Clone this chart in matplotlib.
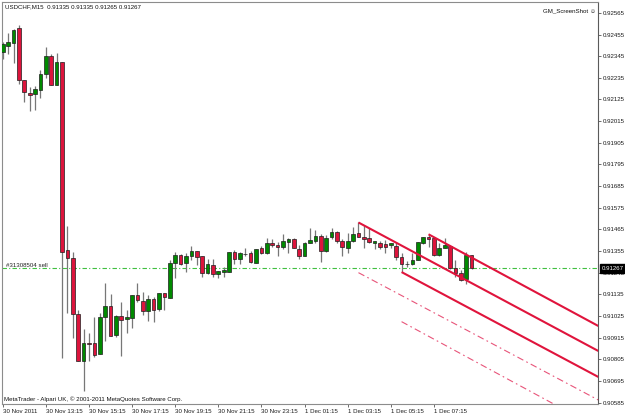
import matplotlib
matplotlib.use("Agg")
import matplotlib.pyplot as plt
import matplotlib.transforms as mtrans
import numpy as np

# ---------------- data ----------------
opens = [0.92368, 0.92399, 0.92414, 0.92487, 0.92224, 0.92157, 0.92152, 0.92172, 0.92253, 0.92346,
         0.92198, 0.92314, 0.91360, 0.91321, 0.91033, 0.90798, 0.90889, 0.90886, 0.90830, 0.91021,
         0.91076, 0.90928, 0.91025, 0.91010, 0.91016, 0.91132, 0.91101, 0.91050, 0.91111, 0.91059,
         0.91140, 0.91118, 0.91293, 0.91335, 0.91293, 0.91330, 0.91355, 0.91331, 0.91242, 0.91284,
         0.91238, 0.91249, 0.91250, 0.91352, 0.91313, 0.91341, 0.91344, 0.91296, 0.91369, 0.91344,
         0.91394, 0.91384, 0.91374, 0.91403, 0.91415, 0.91365, 0.91331, 0.91397, 0.91408, 0.91433,
         0.91357, 0.91425, 0.91453, 0.91406, 0.91369, 0.91408, 0.91445, 0.91428, 0.91420, 0.91397,
         0.91394, 0.91391, 0.91386, 0.91382, 0.91326, 0.91291, 0.91289, 0.91310, 0.91394, 0.91425,
         0.91420, 0.91335, 0.91369, 0.91382, 0.91267, 0.91242, 0.91211, 0.91335]
highs = [0.92419, 0.92462, 0.92482, 0.92504, 0.92224, 0.92190, 0.92195, 0.92275, 0.92392, 0.92355,
         0.92363, 0.92314, 0.91482, 0.91349, 0.91055, 0.90959, 0.90937, 0.91021, 0.91042, 0.91191,
         0.91135, 0.91030, 0.91094, 0.91055, 0.91132, 0.91194, 0.91148, 0.91132, 0.91123, 0.91140,
         0.91140, 0.91310, 0.91352, 0.91338, 0.91344, 0.91381, 0.91355, 0.91331, 0.91313, 0.91313,
         0.91254, 0.91272, 0.91352, 0.91360, 0.91352, 0.91372, 0.91357, 0.91366, 0.91381, 0.91420,
         0.91415, 0.91399, 0.91440, 0.91420, 0.91420, 0.91386, 0.91403, 0.91471, 0.91462, 0.91442,
         0.91436, 0.91474, 0.91458, 0.91416, 0.91445, 0.91479, 0.91501, 0.91487, 0.91471, 0.91406,
         0.91406, 0.91411, 0.91394, 0.91403, 0.91347, 0.91304, 0.91347, 0.91403, 0.91425, 0.91442,
         0.91425, 0.91394, 0.91420, 0.91386, 0.91310, 0.91259, 0.91350, 0.91335]
lows = [0.92330, 0.92355, 0.92309, 0.92203, 0.92114, 0.92067, 0.92072, 0.92131, 0.92233, 0.92198,
        0.92198, 0.90813, 0.91042, 0.90914, 0.90798, 0.90644, 0.90798, 0.90818, 0.90830, 0.90898,
        0.90925, 0.90920, 0.90823, 0.90940, 0.90962, 0.91098, 0.91030, 0.90999, 0.90993, 0.91050,
        0.91055, 0.91115, 0.91216, 0.91284, 0.91250, 0.91310, 0.91284, 0.91225, 0.91238, 0.91225,
        0.91216, 0.91225, 0.91247, 0.91289, 0.91289, 0.91330, 0.91296, 0.91293, 0.91342, 0.91340,
        0.91377, 0.91330, 0.91364, 0.91344, 0.91369, 0.91313, 0.91330, 0.91394, 0.91394, 0.91301,
        0.91352, 0.91416, 0.91394, 0.91331, 0.91344, 0.91403, 0.91425, 0.91369, 0.91394, 0.91366,
        0.91366, 0.91347, 0.91369, 0.91310, 0.91247, 0.91275, 0.91284, 0.91310, 0.91389, 0.91377,
        0.91331, 0.91331, 0.91369, 0.91264, 0.91225, 0.91204, 0.91187, 0.91265]
closes = [0.92406, 0.92419, 0.92479, 0.92224, 0.92162, 0.92150, 0.92177, 0.92253, 0.92345, 0.92198,
          0.92316, 0.91349, 0.91318, 0.91035, 0.90798, 0.90886, 0.90881, 0.90827, 0.91021, 0.91076,
          0.90925, 0.91025, 0.91004, 0.91021, 0.91132, 0.91105, 0.91050, 0.91111, 0.91055, 0.91140,
          0.91121, 0.91293, 0.91335, 0.91289, 0.91331, 0.91355, 0.91326, 0.91242, 0.91288, 0.91237,
          0.91254, 0.91257, 0.91349, 0.91313, 0.91347, 0.91341, 0.91301, 0.91364, 0.91344, 0.91397,
          0.91384, 0.91374, 0.91406, 0.91415, 0.91369, 0.91331, 0.91397, 0.91411, 0.91433, 0.91357,
          0.91423, 0.91453, 0.91408, 0.91374, 0.91408, 0.91442, 0.91428, 0.91416, 0.91399, 0.91406,
          0.91377, 0.91377, 0.91394, 0.91326, 0.91289, 0.91289, 0.91310, 0.91399, 0.91425, 0.91415,
          0.91335, 0.91369, 0.91386, 0.91267, 0.91242, 0.91208, 0.91335, 0.91267]

ytick_vals = [0.92565, 0.92455, 0.92345, 0.92235, 0.92125, 0.92015, 0.91905, 0.91795, 0.91685,
              0.91575, 0.91465, 0.91355, 0.91245, 0.91135, 0.91025, 0.90915, 0.90805, 0.90695, 0.90585]
ytick_labels = ["0.92565", "0.92455", "0.92345", "0.92235", "0.92125", "0.92015", "0.91905", "0.91795",
                "0.91685", "0.91575", "0.91465", "0.91355", "0.91245", "0.91135", "0.91025", "0.90915",
                "0.90805", "0.90695", "0.90585"]
xtick_bars = [0, 8, 16, 24, 32, 40, 48, 56, 64, 72, 80]
xtick_labels = ["30 Nov 2011", "30 Nov 13:15", "30 Nov 15:15", "30 Nov 17:15", "30 Nov 19:15",
                "30 Nov 21:15", "30 Nov 23:15", "1 Dec 01:15", "1 Dec 03:15", "1 Dec 05:15", "1 Dec 07:15"]

# trend / channel lines: start bar, start price, end bar, end price, dashed?
tl_bar0 = [79, 66, 74, 66, 74]
tl_p0 = [0.91440, 0.91500, 0.91248, 0.91245, 0.90996]
tl_bar1 = [110.5, 110.5, 110.5, 110.5, 110.5]
tl_p1 = [0.90974, 0.90847, 0.90715, 0.90598, 0.90455]
tl_dashed = [False, False, False, True, True]

order_price = 0.91268
order_label = "#31308504 sell"
bid = 0.91267
header = "USDCHF,M15  0.91335 0.91335 0.91265 0.91267"
copyright_txt = "MetaTrader - Alpari UK, \u00a9 2001-2011 MetaQuotes Software Corp."

# ---------------- figure ----------------
W, H = 625, 417
FONT = ["Liberation Sans", "DejaVu Sans"]
plt.rcParams["font.family"] = FONT
FS = 4.4

fig = plt.figure(figsize=(W / 100, H / 100), dpi=100)
fig.patch.set_facecolor("white")
L, R, T, B = 1.7, 598.3, 1.7, 404.3
ax = fig.add_axes([L / W, 1 - B / H, (R - L) / W, (B - T) / H])
ax.set_facecolor("white")
ax.set_xlim(-0.19, 110.5)
ax.set_ylim(0.90576, 0.92622)

o = np.array(opens); h = np.array(highs); lo = np.array(lows); c = np.array(closes)
x = np.arange(len(o))
GREEN = "#008a00"
RED = "#dc143c"
cols = np.where(c > o, GREEN, np.where(c < o, RED, "#000000"))

ax.vlines(x, lo, h, color="#777777", lw=0.9, zorder=2)
ax.bar(x, np.abs(c - o), bottom=np.minimum(o, c), width=0.68, color=cols,
       edgecolor="#1e1e1e", linewidth=0.5, zorder=3)

# order line
ax.axhline(order_price, color="#3fc03f", lw=0.8, linestyle=(0, (4, 2, 1, 2)), zorder=1)

# channel lines
for b0, p0, b1, p1, d in zip(tl_bar0, tl_p0, tl_bar1, tl_p1, tl_dashed):
    if d:
        ax.plot([b0, b1], [p0, p1], color="#e8557a", lw=0.8, linestyle=(0, (6, 3, 1.5, 3)), zorder=4)
    else:
        ax.plot([b0, b1], [p0, p1], color="#e0143c", lw=1.5, zorder=4, solid_capstyle="butt")

# axes styling
for side in ["left", "top", "bottom"]:
    ax.spines[side].set_color("#8c8c8c")
    ax.spines[side].set_linewidth(0.8)
ax.spines["right"].set_color("#5a5a5a")
ax.spines["right"].set_linewidth(0.8)

ax.yaxis.tick_right()
ax.set_yticks(ytick_vals)
ax.set_yticklabels(ytick_labels)
ax.tick_params(axis="y", direction="out", length=2.2, width=0.6, pad=1.2, labelsize=FS,
               color="#555555", labelcolor="#1a1a1a")
ax.set_xticks(xtick_bars)
ax.set_xticklabels(xtick_labels)
ax.tick_params(axis="x", direction="out", length=2.2, width=0.6, pad=1.0, labelsize=FS,
               color="#555555", labelcolor="#1a1a1a")
for lbl in ax.get_xticklabels():
    lbl.set_horizontalalignment("left")

# current price box
trans = mtrans.blended_transform_factory(ax.transAxes, ax.transData)
ax.text(1.0 + 3.5 / (R - L), bid, "0.91267", transform=trans, ha="left", va="center",
        color="white", fontsize=FS, zorder=10, clip_on=False,
        bbox=dict(boxstyle="square,pad=0.3", facecolor="black", edgecolor="black"))

def fx(px):
    return px / W

def fy(py):
    return 1 - py / H

fig.text(fx(5), fy(6.7), header, ha="left", va="center", fontsize=FS, color="#111111")
fig.text(fx(596), fy(10.8), "GM_ScreenShot \u263a", ha="right", va="center", fontsize=FS,
         color="#111111", family=FONT)
fig.text(fx(4), fy(399), copyright_txt, ha="left", va="center", fontsize=FS, color="#111111")
ax.text(0.6, order_price, order_label, ha="left", va="bottom", fontsize=FS, color="#222222",
        zorder=5)

fig.savefig("out.png", dpi=100, facecolor="white")
